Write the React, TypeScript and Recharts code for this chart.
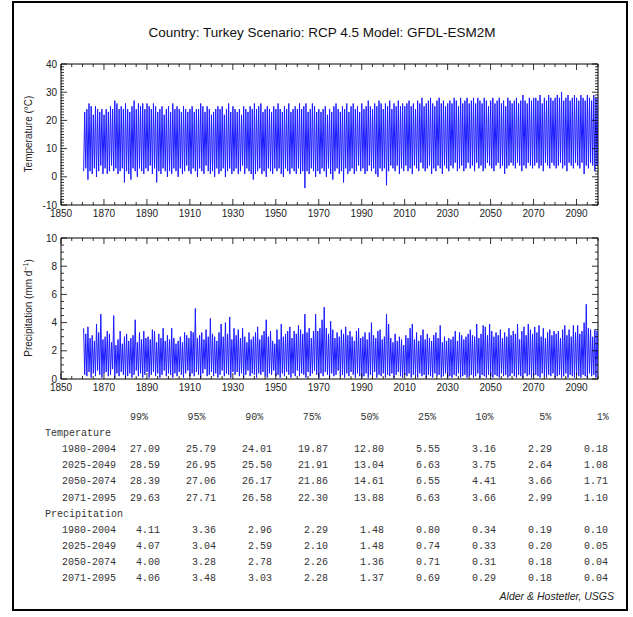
import React from 'react';
import { LineChart, Line, XAxis, YAxis, ReferenceArea } from 'recharts';

// first model year on the plots; one value per year (Jan / Jul extremes)
const FIRST_YEAR = 1861;

// summer (July) temperature peaks, 1861-2100
const tempMax = [
  23, 24, 26, 25, 22, 25, 24, 23, 24, 22,
  24, 23, 25, 24, 27, 26, 24, 25, 24, 26,
  24, 23, 25, 27, 24, 26, 25, 26, 24, 26,
  25, 24, 26, 25, 23, 24, 25, 22, 24, 25,
  23, 26, 24, 25, 24, 23, 25, 24, 23, 24,
  25, 23, 24, 24, 26, 25, 23, 25, 24, 22,
  23, 24, 25, 24, 25, 22, 24, 26, 23, 25,
  24, 23, 24, 22, 25, 24, 23, 25, 24, 26,
  24, 25, 26, 23, 24, 25, 24, 23, 25, 24,
  26, 24, 23, 25, 24, 26, 23, 24, 25, 24,
  26, 24, 25, 26, 23, 24, 26, 25, 23, 24,
  23, 24, 25, 22, 24, 23, 25, 26, 24, 23,
  25, 24, 26, 23, 25, 26, 24, 25, 23, 26,
  24, 25, 27, 25, 24, 26, 25, 27, 26, 24,
  26, 25, 27, 24, 26, 25, 27, 25, 26, 25,
  26, 27, 25, 26, 24, 27, 26, 28, 25, 26,
  27, 28, 26, 25, 27, 28, 26, 27, 25, 26,
  27, 26, 28, 27, 25, 28, 26, 27, 28, 26,
  27, 28, 26, 28, 27, 26, 28, 27, 25, 27,
  28, 26, 27, 28, 26, 27, 25, 28, 27, 26,
  27, 28, 26, 27, 29, 27, 26, 28, 27, 28,
  28, 27, 29, 26, 28, 27, 29, 28, 27, 28,
  29, 28, 30, 27, 28, 29, 27, 28, 29, 28,
  27, 29, 28, 27, 29, 28, 27, 29, 28, 28,
];

// winter (January) temperature troughs, 1861-2100
const tempMin = [
  2, 3, -1, 2, 1, 3, 0, 2, 4, 1,
  3, 1, 2, 4, 2, 3, 1, 2, 3, -2,
  2, 1, -1, 3, 2, 0, 3, 2, 1, 3,
  2, 4, 1, 3, -2, 2, 1, 3, 2, 0,
  2, 1, 3, 2, 0, 3, 1, 2, 4, 2,
  1, 3, 2, 0, 3, 2, 1, 4, 2, 1,
  2, 0, 3, 1, 2, 3, 0, 2, 3, 1,
  2, 3, 1, 2, 4, 1, 3, 2, 1, -1,
  1, 2, 3, 1, 2, 0, 3, 2, 1, 3,
  2, 3, 1, 0, 3, 2, 1, 3, 2, 1,
  3, 1, 2, -4, 2, 1, 3, 2, 0, 2,
  1, 3, 2, 0, 3, 1, -1, 2, 3, 1,
  2, -2, 3, 1, 2, 3, 1, 2, 4, 2,
  3, 1, 2, 4, 2, 3, 1, 0, 3, 2,
  3, -3, 2, 4, 3, 2, 4, 1, 3, 2,
  4, 2, 3, 1, 4, 3, 2, 5, 3, 2,
  3, 4, 1, 3, 2, 4, 3, 1, 4, 3,
  2, 4, 3, 5, 2, 3, 4, 2, 3, 5,
  3, 4, 2, 5, 3, 4, 2, 3, 5, 4,
  3, 2, 4, 5, 3, 4, 1, 3, 4, 5,
  4, 3, 5, 4, 2, 4, 3, 5, 4, 3,
  4, 5, 3, 4, 2, 5, 4, 3, 5, 4,
  3, 4, 5, 3, 4, 2, 5, 4, 3, 5,
  4, 3, 5, 1, 4, 3, 5, 4, 2, 4,
];

// wet-season (winter) precipitation peaks, 1861-2100
const precipMax = [
  3.6, 3.2, 3.7, 2.9, 3.1, 2.7, 3.9, 3.3, 4.6, 2.8,
  3.0, 3.4, 3.2, 2.6, 4.5, 2.4, 2.8, 3.4, 2.5, 3.0,
  3.2, 2.7, 2.9, 3.1, 4.2, 2.6, 3.3, 2.8, 3.4, 2.9,
  3.0, 2.8, 3.5, 3.4, 2.6, 3.2, 2.9, 3.6, 2.7, 3.1,
  2.8, 3.6, 2.9, 2.5, 2.7, 3.0, 2.6, 3.3, 3.1, 2.9,
  3.4, 3.3, 5.0, 2.9, 3.1, 3.3, 2.8, 3.5, 3.0, 4.3,
  3.2, 3.0, 2.7, 3.3, 3.9, 3.0, 4.0, 3.2, 4.4, 2.8,
  3.6, 3.1, 3.5, 2.9, 3.6, 3.0, 2.6, 3.3, 2.8, 3.0,
  3.3, 3.7, 2.8, 3.1, 3.4, 4.2, 3.0, 3.4, 2.7, 2.5,
  3.5, 2.8, 3.9, 3.0, 3.2, 3.4, 3.7, 2.9, 3.4, 3.2,
  3.8, 3.5, 3.2, 4.6, 3.3, 3.6, 2.9, 3.4, 4.6, 3.4,
  3.6, 4.2, 5.1, 3.6, 3.2, 4.1, 3.5, 2.9, 3.3, 3.0,
  3.5, 3.2, 3.7, 3.1, 3.4, 3.0, 2.7, 3.4, 3.6, 2.9,
  3.0, 3.3, 2.8, 3.3, 4.0, 3.1, 2.9, 3.4, 3.5, 2.8,
  3.0, 4.6, 3.9, 2.9, 2.6, 3.2, 2.7, 3.0, 2.8, 2.4,
  3.1, 2.9, 3.6, 3.9, 2.8, 3.3, 2.7, 3.1, 3.5, 2.8,
  3.2, 2.9, 2.7, 3.1, 3.3, 2.9, 3.8, 2.6, 3.0, 2.7,
  2.9, 2.8, 3.0, 3.4, 2.7, 3.3, 3.1, 2.8, 3.0, 3.2,
  3.5, 3.1, 3.0, 3.9, 2.9, 3.2, 3.8, 3.7, 3.1, 3.9,
  3.4, 3.0, 3.3, 3.1, 3.5, 2.9, 3.3, 3.0, 3.6, 3.1,
  3.4, 3.2, 3.9, 2.8, 3.4, 3.7, 3.1, 3.9, 3.5, 3.2,
  3.7, 3.3, 3.8, 3.0, 3.6, 2.9, 3.3, 3.5, 3.1, 3.4,
  3.2, 3.4, 2.9, 3.5, 3.8, 3.1, 3.5, 3.0, 3.8, 3.3,
  3.8, 3.2, 3.4, 4.0, 5.3, 3.6, 3.5, 3.0, 3.5, 3.4,
];

// dry-season (summer) precipitation lows, 1861-2100
const precipMin = [
  0.3, 0.2, 0.5, 0.1, 0.4, 0.2, 0.6, 0.3, 0.1, 0.4,
  0.5, 0.2, 0.3, 0.7, 0.1, 0.4, 0.2, 0.5, 0.3, 0.1,
  0.2, 0.4, 0.1, 0.3, 0.6, 0.2, 0.4, 0.1, 0.3, 0.5,
  0.1, 0.3, 0.5, 0.2, 0.4, 0.1, 0.3, 0.6, 0.2, 0.4,
  0.3, 0.1, 0.4, 0.2, 0.5, 0.3, 0.1, 0.4, 0.6, 0.2,
  0.4, 0.2, 0.5, 0.3, 0.1, 0.4, 0.7, 0.2, 0.3, 0.5,
  0.2, 0.4, 0.1, 0.3, 0.6, 0.2, 0.4, 0.3, 0.1, 0.5,
  0.3, 0.5, 0.2, 0.4, 0.1, 0.3, 0.6, 0.2, 0.4, 0.3,
  0.1, 0.4, 0.3, 0.5, 0.2, 0.1, 0.4, 0.3, 0.6, 0.2,
  0.3, 0.1, 0.4, 0.2, 0.5, 0.3, 0.1, 0.4, 0.2, 0.6,
  0.2, 0.4, 0.3, 0.1, 0.5, 0.2, 0.4, 0.6, 0.3, 0.1,
  0.4, 0.2, 0.5, 0.3, 0.1, 0.4, 0.2, 0.3, 0.6, 0.2,
  0.3, 0.1, 0.4, 0.2, 0.5, 0.3, 0.1, 0.4, 0.2, 0.1,
  0.2, 0.4, 0.1, 0.3, 0.2, 0.5, 0.1, 0.3, 0.2, 0.4,
  0.1, 0.3, 0.2, 0.4, 0.1, 0.3, 0.5, 0.2, 0.1, 0.3,
  0.2, 0.4, 0.1, 0.3, 0.2, 0.1, 0.4, 0.2, 0.3, 0.1,
  0.3, 0.2, 0.1, 0.4, 0.2, 0.3, 0.1, 0.2, 0.4, 0.1,
  0.2, 0.1, 0.3, 0.2, 0.4, 0.1, 0.2, 0.3, 0.1, 0.2,
  0.3, 0.1, 0.2, 0.4, 0.1, 0.3, 0.2, 0.1, 0.3, 0.2,
  0.1, 0.3, 0.2, 0.1, 0.4, 0.2, 0.3, 0.1, 0.2, 0.4,
  0.2, 0.1, 0.3, 0.2, 0.1, 0.4, 0.2, 0.3, 0.1, 0.2,
  0.3, 0.2, 0.1, 0.4, 0.2, 0.1, 0.3, 0.2, 0.4, 0.1,
  0.2, 0.3, 0.1, 0.2, 0.4, 0.1, 0.3, 0.2, 0.1, 0.3,
  0.2, 0.1, 0.3, 0.2, 0.1, 0.4, 0.2, 0.3, 0.1, 0.2,
];

const yearTicks = [
  1850, 1855, 1860, 1865, 1870, 1875, 1880, 1885, 1890, 1895,
  1900, 1905, 1910, 1915, 1920, 1925, 1930, 1935, 1940, 1945,
  1950, 1955, 1960, 1965, 1970, 1975, 1980, 1985, 1990, 1995,
  2000, 2005, 2010, 2015, 2020, 2025, 2030, 2035, 2040, 2045,
  2050, 2055, 2060, 2065, 2070, 2075, 2080, 2085, 2090, 2095, 2100,
];
const tempTicks = [
  -10, -9, -8, -7, -6, -5, -4, -3, -2, -1, 0, 1, 2, 3, 4, 5, 6, 7, 8, 9,
  10, 11, 12, 13, 14, 15, 16, 17, 18, 19, 20, 21, 22, 23, 24, 25, 26, 27, 28, 29,
  30, 31, 32, 33, 34, 35, 36, 37, 38, 39, 40,
];
const precipTicks = [
  0, 0.5, 1, 1.5, 2, 2.5, 3, 3.5, 4, 4.5, 5, 5.5, 6, 6.5, 7, 7.5, 8, 8.5, 9, 9.5, 10,
];

const pctLabels = ['99%', '95%', '90%', '75%', '50%', '25%', '10%', '5%', '1%'];
const periods = ['1980-2004', '2025-2049', '2050-2074', '2071-2095'];
const tempPct = [
  [27.09, 25.79, 24.01, 19.87, 12.8, 5.55, 3.16, 2.29, 0.18],
  [28.59, 26.95, 25.5, 21.91, 13.04, 6.63, 3.75, 2.64, 1.08],
  [28.39, 27.06, 26.17, 21.86, 14.61, 6.55, 4.41, 3.66, 1.71],
  [29.63, 27.71, 26.58, 22.3, 13.88, 6.63, 3.66, 2.99, 1.1],
];
const precipPct = [
  [4.11, 3.36, 2.96, 2.29, 1.48, 0.8, 0.34, 0.19, 0.1],
  [4.07, 3.04, 2.59, 2.1, 1.48, 0.74, 0.33, 0.2, 0.05],
  [4.0, 3.28, 2.78, 2.26, 1.36, 0.71, 0.31, 0.18, 0.04],
  [4.06, 3.48, 3.03, 2.28, 1.37, 0.69, 0.29, 0.18, 0.04],
];

const SANS = '"Liberation Sans", Arial, Helvetica, sans-serif';
const MONO = '"Liberation Mono", "DejaVu Sans Mono", monospace';
const PLOT_W = 537;
const PLOT_H = 141;
const LINE = '#1a1aff';

// two points a year: January and July
function seasonal(jan: number[], jul: number[]) {
  const out: { t: number; v: number }[] = [];
  jan.forEach((_, i) => {
    const yr = FIRST_YEAR + i;
    out.push({ t: yr - 0.46, v: jan[i] });
    out.push({ t: yr + 0.04, v: jul[i] });
  });
  return out;
}

const tempData = seasonal(tempMin, tempMax);
const precipData = seasonal(precipMax, precipMin);

const YearTick = (props: any) => {
  const { x, y, payload } = props;
  const v = payload.value;
  const major = (v - 1850) % 20 === 0;
  const len = major ? 6 : 3;
  return (
    <g>
      <line x1={x} x2={x} y1={y} y2={y - len} stroke="#000" strokeWidth={0.8} />
      <line x1={x} x2={x} y1={y - PLOT_H} y2={y - PLOT_H + len} stroke="#000" strokeWidth={0.8} />
      {major && v < 2100 && (
        <text x={x} y={y + 12} textAnchor="middle" fontSize={10} fontFamily={SANS} fill="#222">
          {v}
        </text>
      )}
    </g>
  );
};

const makeValueTick = (step: number) => (props: any) => {
  const { x, y, payload } = props;
  const v = payload.value;
  const major = Math.abs(v / step - Math.round(v / step)) < 1e-6;
  const len = major ? 6 : 3;
  return (
    <g>
      <line x1={x} x2={x + len} y1={y} y2={y} stroke="#000" strokeWidth={0.8} />
      <line x1={x + PLOT_W} x2={x + PLOT_W - len} y1={y} y2={y} stroke="#000" strokeWidth={0.8} />
      {major && (
        <text x={x - 4} y={y + 3.5} textAnchor="end" fontSize={10} fontFamily={SANS} fill="#222">
          {v}
        </text>
      )}
    </g>
  );
};

const TempTick = makeValueTick(10);
const PrecipTick = makeValueTick(2);

const colRight = (k: number) => 160 + k * 56;
const headRight = (k: number) => 148 + k * 57.6;
const ROW0 = 420;
const ROW_H = 16.1;

function TableBlock() {
  const rows: React.ReactNode[] = [];
  const txt = { fontSize: 10, fontFamily: MONO, fill: '#333' };
  pctLabels.forEach((p, k) => {
    rows.push(
      <text key={'h' + k} x={headRight(k)} y={ROW0} textAnchor="end" {...txt}>
        {p}
      </text>
    );
  });
  const block = (title: string, vals: number[][], start: number) => {
    rows.push(
      <text key={title} x={45} y={ROW0 + start * ROW_H} {...txt}>
        {title}
      </text>
    );
    vals.forEach((r, i) => {
      const y = ROW0 + (start + 1 + i) * ROW_H;
      rows.push(
        <text key={title + i} x={62} y={y} {...txt}>
          {periods[i]}
        </text>
      );
      r.forEach((v, k) => {
        rows.push(
          <text key={title + i + '-' + k} x={colRight(k)} y={y} textAnchor="end" {...txt}>
            {v.toFixed(2)}
          </text>
        );
      });
    });
  };
  block('Temperature', tempPct, 1);
  block('Precipitation', precipPct, 6);
  return <g>{rows}</g>;
}

export default function App() {
  return (
    <div style={{ position: 'absolute', left: 0, top: 0, width: 633, height: 617, background: '#fff' }}>
      <div style={{ position: 'absolute', left: 0, top: 0 }}>
        <LineChart width={633} height={230} data={tempData} margin={{ top: 64, right: 35, bottom: 0, left: 21 }}>
          <XAxis
            type="number"
            dataKey="t"
            domain={[1850, 2100]}
            ticks={yearTicks}
            interval={0}
            allowDataOverflow
            axisLine={false}
            tickLine={false}
            tickSize={0}
            tickMargin={0}
            height={25}
            tick={<YearTick />}
          />
          <YAxis
            type="number"
            domain={[-10, 40]}
            ticks={tempTicks}
            interval={0}
            allowDataOverflow
            axisLine={false}
            tickLine={false}
            tickSize={0}
            tickMargin={0}
            width={40}
            tick={<TempTick />}
          />
          <Line
            type="linear"
            dataKey="v"
            stroke={LINE}
            strokeWidth={1}
            dot={false}
            isAnimationActive={false}
          />
          <ReferenceArea x1={1850} x2={2100} y1={-10} y2={40} fill="none" stroke="#000" strokeWidth={1} />
        </LineChart>
      </div>
      <div style={{ position: 'absolute', left: 0, top: 225 }}>
        <LineChart width={633} height={180} data={precipData} margin={{ top: 13, right: 35, bottom: 0, left: 21 }}>
          <XAxis
            type="number"
            dataKey="t"
            domain={[1850, 2100]}
            ticks={yearTicks}
            interval={0}
            allowDataOverflow
            axisLine={false}
            tickLine={false}
            tickSize={0}
            tickMargin={0}
            height={26}
            tick={<YearTick />}
          />
          <YAxis
            type="number"
            domain={[0, 10]}
            ticks={precipTicks}
            interval={0}
            allowDataOverflow
            axisLine={false}
            tickLine={false}
            tickSize={0}
            tickMargin={0}
            width={40}
            tick={<PrecipTick />}
          />
          <Line
            type="linear"
            dataKey="v"
            stroke={LINE}
            strokeWidth={1}
            dot={false}
            isAnimationActive={false}
          />
          <ReferenceArea x1={1850} x2={2100} y1={0} y2={10} fill="none" stroke="#000" strokeWidth={1} />
        </LineChart>
      </div>
      <svg
        width={633}
        height={617}
        style={{ position: 'absolute', left: 0, top: 0, pointerEvents: 'none' }}
      >
        <rect x={13} y={2} width={614} height={608} fill="none" stroke="#000" strokeWidth={2} />
        <text x={322} y={37} textAnchor="middle" fontSize={13.5} fontFamily={SANS} fill="#111">
          Country: Turkey Scenario: RCP 4.5 Model: GFDL-ESM2M
        </text>
        <text
          transform="translate(32,134) rotate(-90)"
          textAnchor="middle"
          fontSize={10}
          fontFamily={SANS}
          fill="#222"
        >
          Temperature (°C)
        </text>
        <text
          transform="translate(32,308) rotate(-90)"
          textAnchor="middle"
          fontSize={10}
          fontFamily={SANS}
          fill="#222"
        >
          Precipitation (mm d
          <tspan fontSize={7} dy={-4}>
            −1
          </tspan>
          <tspan dy={4}>)</tspan>
        </text>
        <TableBlock />
        <text x={614} y={600} textAnchor="end" fontSize={10.5} fontStyle="italic" fontFamily={SANS} fill="#222">
          Alder &amp; Hostetler, USGS
        </text>
      </svg>
    </div>
  );
}
